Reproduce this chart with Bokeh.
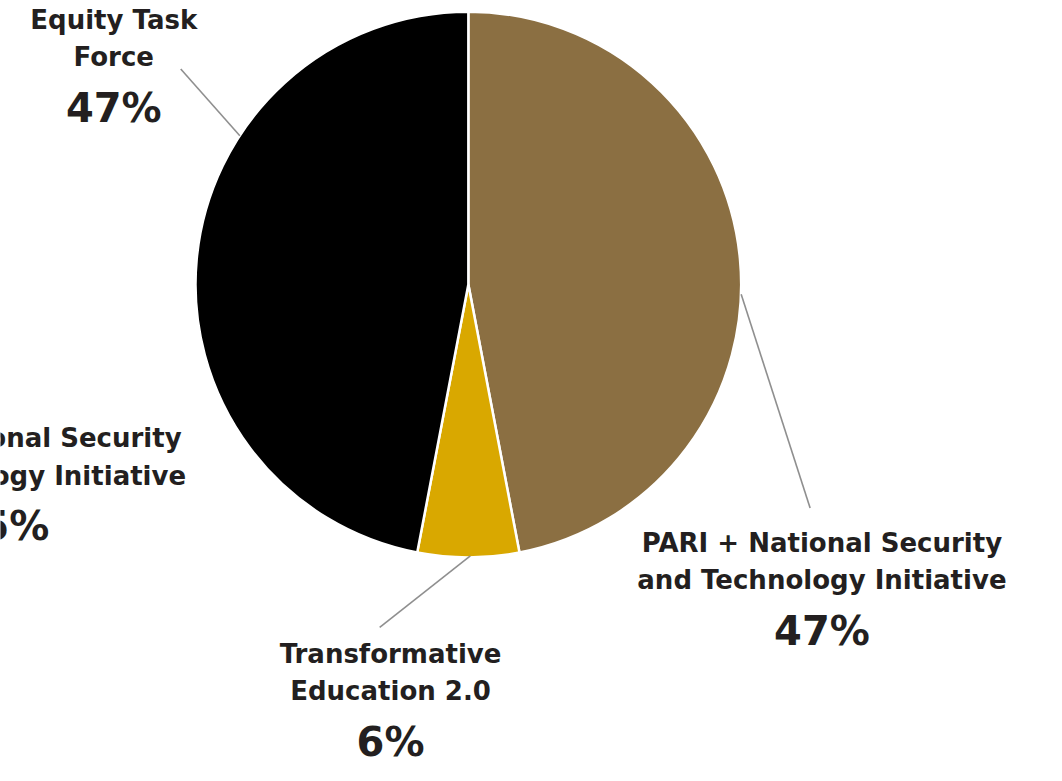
import math
from bokeh.plotting import figure
from bokeh.models import ColumnDataSource, Range1d
from bokeh.core.properties import value
from bokeh.embed import file_html
from bokeh.resources import INLINE

# ---- data ----
categories = ["PARI + National Security and Technology Initiative",
              "Transformative Education 2.0",
              "Equity Task Force"]
shares = [47, 6, 47]
colors = ["#8B6F42", "#D9A800", "#000000"]
label_lines = [["PARI + National Security", "and Technology Initiative"],
               ["Transformative", "Education 2.0"],
               ["Equity Task", "Force"]]
# partially cropped label at the left edge of the original image
ghost_lines = ["PARI + National Security", "and Technology Initiative"]
ghost_share = 45

# ---- layout (pixel coordinates of the reference image, y downward) ----
W, H = 1062, 781
PW, PH = W - 16, H - 16
cx, cy, R = 475, 290, 277
label_cx = [834, 396, 115]
label_base = [566, 679, 32]          # baseline of first line
leader = [((752, 300), (822, 518)),
          ((477, 567), (385, 640)),
          ((243, 138), (183, 70))]
ghost_cx, ghost_base = 1, 459
FONT = "DejaVu Sans"
TXT = "#231F20"
NAME_PX = 26
PCT_PX = 40
BASE_FIX = 0.45      # text is drawn centred on y; lift so baseline sits at target

def Y(py):
    return H - py

p = figure(width=PW, height=PH, output_backend="svg",
           toolbar_location=None, x_range=Range1d(0, W),
           y_range=Range1d(0, H), min_border=0)
p.axis.visible = False
p.grid.visible = False
p.outline_line_color = None
p.background_fill_color = "white"
p.border_fill_color = "white"

total = sum(shares)
starts, ends = [], []
cum = 0
for s in shares:
    a0 = math.pi / 2 - 2 * math.pi * cum / total
    cum += s
    a1 = math.pi / 2 - 2 * math.pi * cum / total
    starts.append(a0)
    ends.append(a1)

src = ColumnDataSource(dict(cat=categories, share=shares, color=colors,
                            start=starts, end=ends))
p.wedge(x=cx, y=Y(cy), radius=R, start_angle="start", end_angle="end",
        direction="clock", fill_color="color", line_color="white",
        line_width=2.5, source=src)

# leader lines
for (a, b) in leader:
    p.line([a[0], b[0]], [Y(a[1]), Y(b[1])], line_color="#8F8F8F", line_width=1.6)

# labels
tx, ty, tt, ts = [], [], [], []
yscale = PH / H
def add(x, base, text, size):
    tx.append(x)
    ty.append(Y(base) + BASE_FIX * size / yscale)
    tt.append(text)
    ts.append(f"{size}px")

for lines, x, b, s in zip(label_lines, label_cx, label_base, shares):
    for i, ln in enumerate(lines):
        add(x, b + 38 * i, ln, NAME_PX)
    add(x, b + 96, f"{s}%", PCT_PX)
for i, ln in enumerate(ghost_lines):
    add(ghost_cx, ghost_base + 38 * i, ln, NAME_PX)
add(ghost_cx, ghost_base + 96, f"{ghost_share}%", PCT_PX)

tsrc = ColumnDataSource(dict(x=tx, y=ty, t=tt, s=ts))
p.text(x="x", y="y", text="t", source=tsrc, text_font=value(FONT),
       text_font_style="bold", text_font_size="s", text_align="center",
       text_baseline="alphabetic", text_color=TXT)

open("out.html", "w").write(file_html(p, INLINE))
